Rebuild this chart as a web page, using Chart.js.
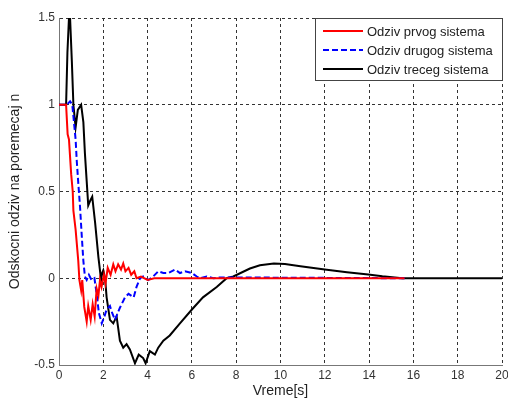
<!DOCTYPE html>
<html>
<head>
<meta charset="utf-8">
<script src="https://cdn.jsdelivr.net/npm/chart.js@4/dist/chart.umd.min.js"></script>
<style>
  html, body { margin: 0; padding: 0; background: #fff; }
  #wrap { width: 508px; height: 400px; }
</style>
</head>
<body>
<div id="wrap"><canvas id="myChart" width="508" height="400"></canvas></div>
<script>
// series data
const seriesNames = ['Odziv prvog sistema', 'Odziv drugog sistema', 'Odziv treceg sistema'];

const tRed = [0, 0.32, 0.39, 0.45, 0.55, 0.62, 0.65, 0.75, 0.87, 0.92, 1.0, 1.05, 1.14, 1.25, 1.32, 1.43, 1.52, 1.61, 1.7, 1.78, 1.85, 1.92, 2.03, 2.1, 2.2, 2.33, 2.45, 2.55, 2.67, 2.8, 2.9, 3.0, 3.14, 3.26, 3.4, 3.5, 3.7, 4.0, 4.3, 15.6];
const yRed = [1, 1, 0.83, 0.8, 0.6, 0.5, 0.39, 0.28, 0.10, -0.01, -0.07, -0.01, -0.165, -0.25, -0.16, -0.24, -0.15, -0.22, -0.06, -0.10, -0.01, -0.05, 0.02, -0.03, 0.06, 0.02, 0.08, 0.04, 0.08, 0.05, 0.085, 0.04, 0.06, 0.02, 0.04, 0.0, 0.01, -0.01, 0, 0];

const tBlue = [0, 0.35, 0.5, 0.6, 0.69, 0.75, 0.8, 0.87, 0.95, 1.02, 1.1, 1.17, 1.25, 1.35, 1.47, 1.6, 1.7, 1.8, 1.93, 2.05, 2.15, 2.3, 2.4, 2.53, 2.65, 2.75, 2.98, 3.14, 3.37, 3.5, 3.66, 3.8, 4.03, 4.25, 4.48, 4.71, 4.93, 5.24, 5.46, 5.69, 6.0, 6.22, 6.36, 6.67, 6.97, 7.3, 15.6];
const yBlue = [1, 1, 1.02, 1.0, 0.88, 0.8, 0.68, 0.55, 0.41, 0.26, 0.10, 0.01, -0.01, 0.02, -0.01, 0.0, -0.09, -0.2, -0.26, -0.22, -0.18, -0.16, -0.2, -0.24, -0.2, -0.17, -0.11, -0.09, -0.11, -0.05, 0.0, 0.01, -0.01, 0.01, 0.04, 0.03, 0.03, 0.05, 0.03, 0.04, 0.03, 0.01, 0.0, 0.01, 0.0, 0.005, 0];

const tBlack = [0, 0.32, 0.38, 0.45, 0.5, 0.58, 0.65, 0.75, 0.85, 1.0, 1.1, 1.17, 1.25, 1.32, 1.42, 1.5, 1.63, 1.78, 1.9, 1.95, 2.0, 2.08, 2.15, 2.3, 2.45, 2.6, 2.75, 2.9, 3.05, 3.2, 3.43, 3.6, 3.8, 3.91, 4.1, 4.33, 4.48, 4.71, 5.0, 5.46, 6.0, 6.5, 7.12, 7.57, 7.87, 8.62, 9.07, 9.7, 10.2, 10.9, 12, 13, 13.96, 14.6, 15.5, 20];
const yBlack = [1, 1, 1.3, 1.5, 1.5, 1.25, 1.0, 0.87, 0.97, 1.0, 0.9, 0.72, 0.56, 0.42, 0.45, 0.47, 0.32, 0.12, -0.01, 0.03, 0.046, 0.0, -0.11, -0.24, -0.26, -0.22, -0.36, -0.40, -0.38, -0.41, -0.49, -0.44, -0.46, -0.49, -0.42, -0.44, -0.40, -0.36, -0.33, -0.26, -0.18, -0.11, -0.05, 0.0, 0.01, 0.056, 0.075, 0.085, 0.082, 0.069, 0.05, 0.035, 0.021, 0.011, 0, 0];

const xTicks = [0, 2, 4, 6, 8, 10, 12, 14, 16, 18, 20];
const yTicks = [-0.5, 0, 0.5, 1, 1.5];

const fontFam = '"Liberation Sans", Arial, sans-serif';

function pts(t, y) {
  return t.map((v, i) => ({ x: v, y: y[i] }));
}

// matlab style legend box in the top right corner
const legendBox = {
  id: 'legendBox',
  afterDraw(chart) {
    const ctx = chart.ctx;
    const x0 = 315, y0 = 18, w = 187, h = 62;
    ctx.save();
    ctx.fillStyle = '#fff';
    ctx.fillRect(x0, y0, w, h);
    ctx.strokeStyle = '#444';
    ctx.lineWidth = 1;
    ctx.setLineDash([]);
    ctx.strokeRect(x0 + 0.5, y0 + 0.5, w, h);
    ctx.font = '13px ' + fontFam;
    ctx.textBaseline = 'middle';
    chart.data.datasets.forEach((ds, i) => {
      const yy = y0 + 13 + i * 19;
      ctx.strokeStyle = ds.borderColor;
      ctx.lineWidth = 2;
      ctx.setLineDash(ds.borderDash || []);
      ctx.beginPath();
      ctx.moveTo(x0 + 8, yy);
      ctx.lineTo(x0 + 48, yy);
      ctx.stroke();
      ctx.setLineDash([]);
      ctx.fillStyle = '#222';
      ctx.fillText(ds.label, x0 + 52, yy + 1);
    });
    ctx.restore();
  }
};

const ctx = document.getElementById('myChart').getContext('2d');
const myChart = new Chart(ctx, {
  type: 'line',
  data: {
    datasets: [
      { label: seriesNames[0], data: pts(tRed, yRed), borderColor: '#ff0000', borderWidth: 2 },
      { label: seriesNames[1], data: pts(tBlue, yBlue), borderColor: '#0000ff', borderWidth: 2, borderDash: [6, 3] },
      { label: seriesNames[2], data: pts(tBlack, yBlack), borderColor: '#000000', borderWidth: 2 }
    ]
  },
  options: {
    responsive: false,
    animation: false,
    layout: { padding: { top: 18, right: 0, left: 0, bottom: 0 } },
    elements: { point: { radius: 0 }, line: { tension: 0 } },
    plugins: { legend: { display: false }, tooltip: { enabled: false } },
    scales: {
      x: {
        type: 'linear',
        min: 0, max: 20,
        afterBuildTicks(axis) { axis.ticks = xTicks.map(v => ({ value: v })); },
        afterFit(axis) { axis.height = 35; axis.paddingRight = 6; axis.paddingLeft = 0; },
        ticks: { color: '#333', font: { size: 12, family: fontFam }, padding: 3, maxRotation: 0 },
        grid: { color: '#333', drawTicks: false },
        border: { color: '#777', dash: [3, 3], width: 1 },
        title: { display: true, text: 'Vreme[s]', color: '#222', font: { size: 14, family: fontFam }, padding: { top: 0, bottom: 0 } }
      },
      y: {
        min: -0.5, max: 1.5,
        afterBuildTicks(axis) { axis.ticks = yTicks.map(v => ({ value: v })); },
        afterFit(axis) { axis.width = 59; },
        ticks: { color: '#333', font: { size: 12, family: fontFam }, padding: 4, callback: v => String(v) },
        grid: { color: '#333', drawTicks: false },
        border: { color: '#777', dash: [3, 3], width: 1 },
        title: { display: true, text: 'Odskocni odziv na poremecaj n', color: '#222', font: { size: 14, family: fontFam }, padding: { top: 7, bottom: 0 } }
      }
    }
  },
  plugins: [legendBox]
});
</script>
</body>
</html>
